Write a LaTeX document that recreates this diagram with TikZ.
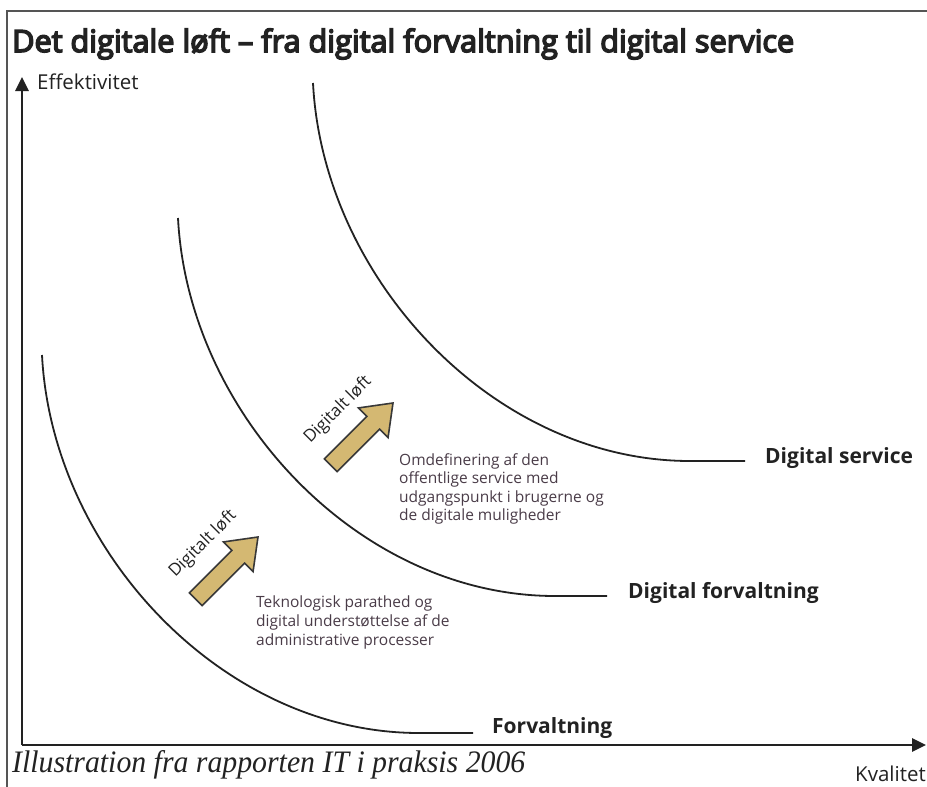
\documentclass[tikz,border=0pt]{standalone}
\usepackage{fontspec}
\usepackage{graphicx}
\setmainfont{Open Sans}
\newfontfamily\titlefont[FakeBold=5]{Open Sans}
\newfontfamily\capfont{Liberation Serif}
\usetikzlibrary{arrows.meta,calc}
\definecolor{ink}{HTML}{222222}
\definecolor{desc}{HTML}{4A3C48}
\definecolor{tan}{HTML}{D4B872}
\definecolor{framec}{HTML}{555555}
\tikzset{
  curve/.style={draw=ink, line width=1.8pt},
  axis/.style={draw=ink, line width=2.6pt, -{Triangle[length=14pt,width=13pt]}},
  lift/.style={draw=ink!90, fill=tan, line width=1.6pt, line join=miter},
  curvelabel/.style={font=\fontsize{21}{24}\selectfont\bfseries, text=ink, inner sep=0pt, anchor=mid west},
  axislabel/.style={font=\fontsize{20.5}{23}\selectfont, text=ink, inner sep=0pt, anchor=mid west},
  liftlabel/.style={font=\fontsize{17}{20}\selectfont, text=ink, inner sep=0pt, rotate=45},
  desctext/.style={font=\fontsize{15.5}{18.6}\selectfont, text=desc, inner sep=0pt, anchor=north west, align=left}
}
\begin{document}
\begin{tikzpicture}[x=1pt,y=-1pt]
\useasboundingbox[fill=white] (0,0) rectangle (927,787);
% frame
\draw[framec, line width=1.5pt] (7,790) -- (7,11) -- (930,11);
% title
\node[anchor=base west, inner sep=0pt, text=ink] (title) at (12,52)
  {\resizebox{782pt}{!}{\fontsize{28}{32}\selectfont\titlefont Det digitale løft – fra digital forvaltning til digital service}};
% axes
\coordinate (origin) at (22,745);
\coordinate (ytip) at (22,77);
\coordinate (xtip) at (926,745);
\draw[axis] (origin) -- (ytip);
\draw[axis] (origin) -- (xtip);
\node[axislabel] (eff) at (37,87) {Effektivitet};
\node[axislabel] (kval) at (855,779) {Kvalitet};
% curves
\coordinate (s1) at (42,355);
\coordinate (s2) at (178,218);
\coordinate (s3) at (313,83);
\draw[curve] (s1) .. controls ($(s1)+(10,195)$) and ($(s1)+(180,378)$) .. ($(s1)+(377,378)$) -- (473,733) coordinate (e1);
\draw[curve] (s2) .. controls ($(s2)+(10,195)$) and ($(s2)+(180,378)$) .. ($(s2)+(377,378)$) -- (607,596) coordinate (e2);
\draw[curve] (s3) .. controls ($(s3)+(10,195)$) and ($(s3)+(180,378)$) .. ($(s3)+(377,378)$) -- (745,461) coordinate (e3);
\node[curvelabel] (forv) at (492,731) {Forvaltning};
\node[curvelabel] (digforv) at (628,596) {Digital forvaltning};
\node[curvelabel] (digserv) at (765,461) {Digital service};
% lift arrows
\draw[lift] (258,537) -- (253.05,571.65) -- (244.56,563.16) -- (202.14,605.58) -- (189.42,592.86) -- (231.84,550.44) -- (223.35,541.95) -- cycle;
\begin{scope}[shift={(135,-134)}]
\draw[lift] (258,537) -- (253.05,571.65) -- (244.56,563.16) -- (202.14,605.58) -- (189.42,592.86) -- (231.84,550.44) -- (223.35,541.95) -- cycle;
\end{scope}
\node[liftlabel] (lift1) at (203,544) {Digitalt løft};
\node[liftlabel] (lift2) at (338,410) {Digitalt løft};
% descriptions
\node[desctext] (d1) at (256,596) {Teknologisk parathed og\\digital understøttelse af de\\administrative processer};
\node[desctext] (d2) at (399,453) {Omdefinering af den\\offentlige service med\\udgangspunkt i brugerne og\\de digitale muligheder};
% caption
\node[anchor=base west, inner sep=0pt, text=ink] (cap) at (12,772)
  {\resizebox{513pt}{22pt}{\capfont\itshape Illustration fra rapporten IT i praksis 2006}};
\end{tikzpicture}
\end{document}
